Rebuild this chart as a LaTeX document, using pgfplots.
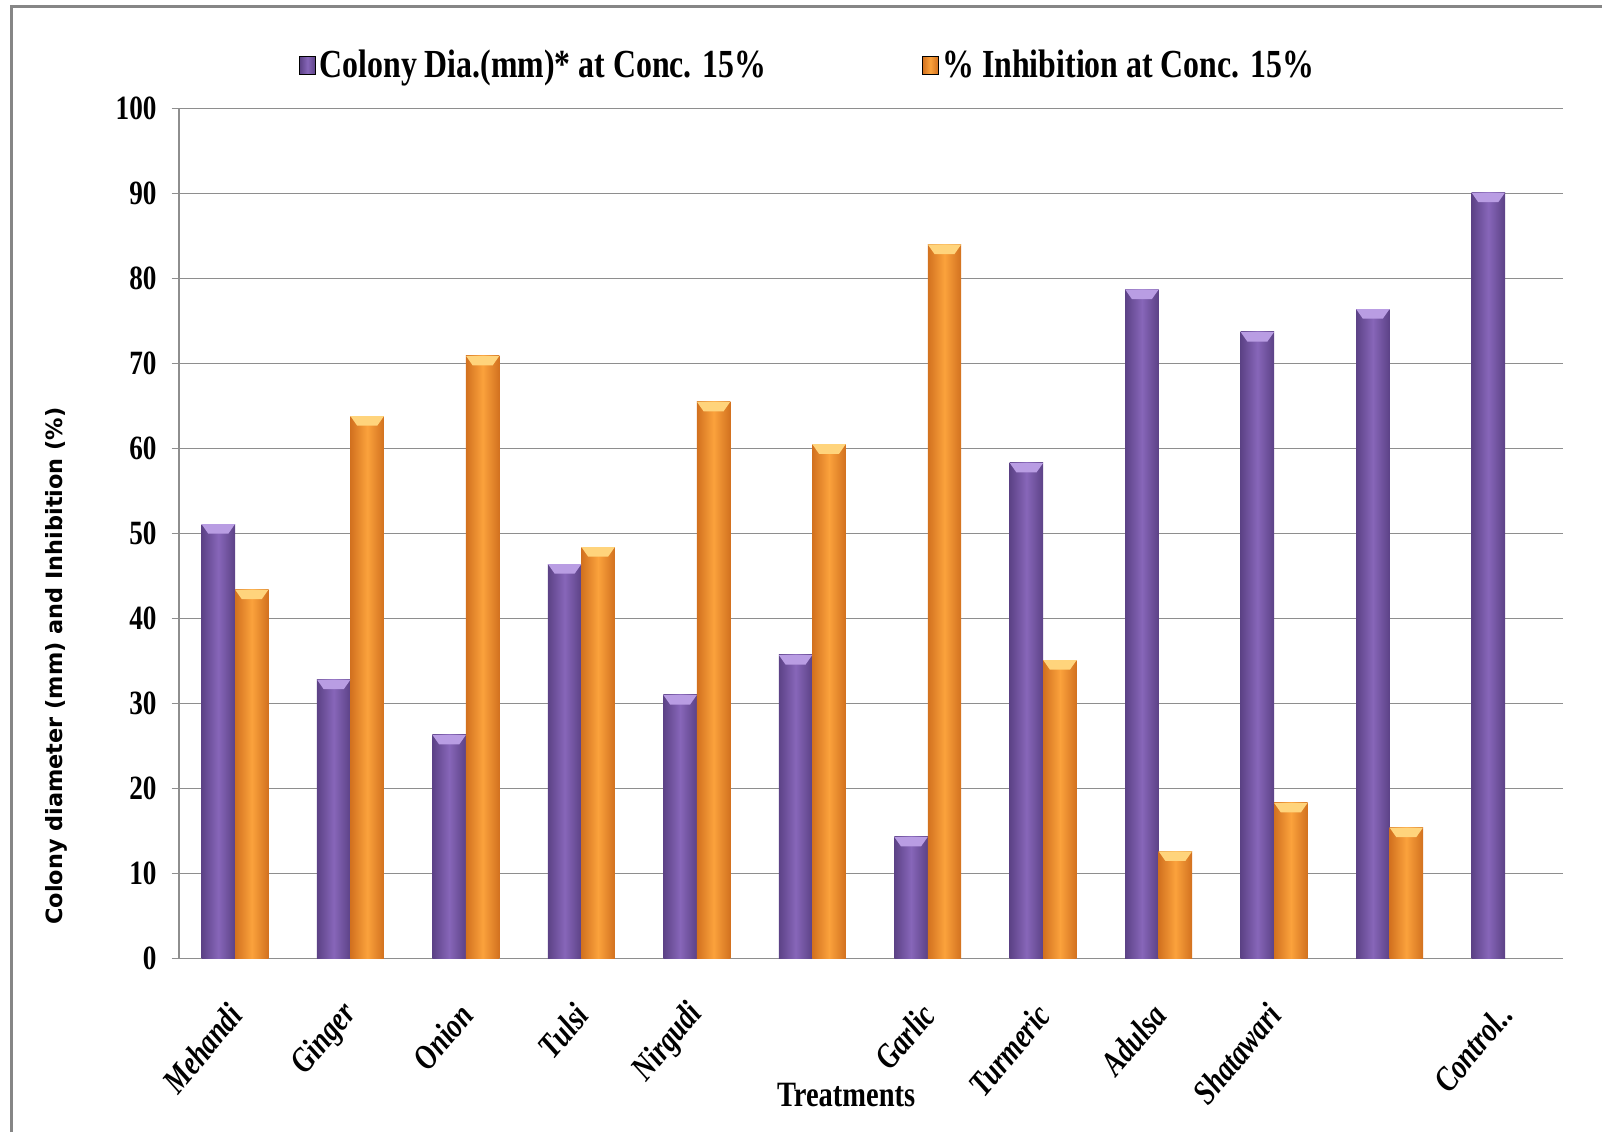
\documentclass[border=0pt]{standalone}
\usepackage{pgfplots}
\pgfplotsset{compat=1.18}
\usepackage{fontspec}
\setmainfont{Liberation Serif}
\newfontfamily\cond[FakeStretch=0.8]{Liberation Serif}
\newfontfamily\vsans{DejaVu Sans}
\definecolor{pdark}{HTML}{5C4286}
\definecolor{plight}{HTML}{8766B9}
\definecolor{ptop}{HTML}{B99DE3}
\definecolor{odark}{HTML}{D2711F}
\definecolor{olight}{HTML}{FBA23C}
\definecolor{otop}{HTML}{FFD47C}
\definecolor{gridgray}{HTML}{8E8E8E}
\pgfdeclareplotmark{pbevel}{%
  \pgfpathmoveto{\pgfqpoint{-8.37pt}{0pt}}%
  \pgfpathlineto{\pgfqpoint{8.37pt}{0pt}}%
  \pgfpathlineto{\pgfqpoint{5pt}{-4.8pt}}%
  \pgfpathlineto{\pgfqpoint{-5pt}{-4.8pt}}%
  \pgfpathclose
  \pgfusepath{fill}}
\pgfplotsset{
  pbar/.style={ybar, draw=none, bar width=0.29, bar shift=-0.145,
    left color=pdark, right color=pdark, middle color=plight, forget plot},
  obar/.style={ybar, draw=none, bar width=0.29, bar shift=0.145,
    left color=odark, right color=odark, middle color=olight, forget plot},
}
\newcommand\pb[2]{\addplot[pbar] coordinates {(#1,#2)};}
\newcommand\ob[2]{\addplot[obar] coordinates {(#1,#2)};}
\begin{document}
\begin{tikzpicture}
\draw[line width=1.5pt, color=gray!95] (5.6pt,-566pt) -- (5.6pt,-3.1pt) -- (801pt,-3.1pt);
\begin{axis}[
  at={(89.4pt,-479.2pt)}, anchor=south west,
  scale only axis, width=692.2pt, height=425pt,
  xmin=-0.487, xmax=11.504, ymin=0, ymax=100,
  ytick={0,10,...,100},
  xtick={0,...,11},
  xticklabels={Mehandi,Ginger,Onion,Tulsi,Nirgudi,{},Garlic,Turmeric,Adulsa,Shatawari,{},Control..},
  axis x line*=bottom, axis y line*=left,
  axis line style={gridgray, line width=0.8pt},
  ymajorgrids, grid style={gridgray, line width=0.75pt},
  major y tick style={gridgray, line width=0.75pt},
  major x tick style={draw=none},
  tick align=outside, major tick length=3.6pt,
  /pgf/number format/assume math mode=true,
  yticklabel style={font=\cond\bfseries\fontsize{17}{17}\selectfont, xshift=-4pt},
  xticklabel style={font=\cond\bfseries\itshape\fontsize{17.3}{17.3}\selectfont, yshift=-19pt, xshift=2.5pt, rotate=50, anchor=east},
  xlabel={\cond\bfseries\fontsize{17.8}{17.8}\selectfont Treatments},
  xlabel style={at={(axis description cs:0.482,-0.161)}, anchor=center},
  ylabel={\vsans\bfseries\fontsize{11.2}{11.2}\selectfont Colony diameter (mm) and Inhibition (\%)},
  ylabel style={at={(axis description cs:-0.0886,0.344)}, anchor=center},
  legend style={draw=none, fill=none, at={(axis description cs:0.455,1.0505)}, anchor=center,
    font=\cond\bfseries\fontsize{19.9}{19.9}\selectfont,
    /tikz/every even column/.append style={column sep=76pt}},
  legend columns=2,
]
\addlegendimage{legend image code/.code={\shade[left color=pdark, right color=pdark, middle color=plight] (-2.5pt,-4.6pt) rectangle (5.2pt,4.4pt);}}
\addlegendentry{Colony Dia.(mm)* at Conc. 15\%}
\addlegendimage{legend image code/.code={\shade[left color=odark, right color=odark, middle color=olight] (-2.5pt,-4.6pt) rectangle (5.2pt,4.4pt);}}
\addlegendentry{\% Inhibition at Conc. 15\%}
% Colony diameter (mm)
\pb{0}{51.1}
\pb{1}{32.8}
\pb{2}{26.3}
\pb{3}{46.4}
\pb{4}{31.0}
\pb{5}{35.7}
\pb{6}{14.3}
\pb{7}{58.3}
\pb{8}{78.7}
\pb{9}{73.7}
\pb{10}{76.4}
\pb{11}{90.1}
% Inhibition (%)
\ob{0}{43.4}
\ob{1}{63.8}
\ob{2}{70.9}
\ob{3}{48.4}
\ob{4}{65.5}
\ob{5}{60.5}
\ob{6}{84.0}
\ob{7}{35.1}
\ob{8}{12.6}
\ob{9}{18.3}
\ob{10}{15.4}
% bevelled tops
\addplot[only marks, mark=pbevel, color=ptop, forget plot, every mark/.append style={xshift=-8.37pt}]
  coordinates {(0,51.1) (1,32.8) (2,26.3) (3,46.4) (4,31.0) (5,35.7) (6,14.3) (7,58.3) (8,78.7) (9,73.7) (10,76.4) (11,90.1)};
\addplot[only marks, mark=pbevel, color=otop, forget plot, every mark/.append style={xshift=8.37pt}]
  coordinates {(0,43.4) (1,63.8) (2,70.9) (3,48.4) (4,65.5) (5,60.5) (6,84.0) (7,35.1) (8,12.6) (9,18.3) (10,15.4)};
\end{axis}
\pgfresetboundingbox
\path[use as bounding box] (0,0) rectangle (801pt,-566pt);
\end{tikzpicture}
\end{document}
